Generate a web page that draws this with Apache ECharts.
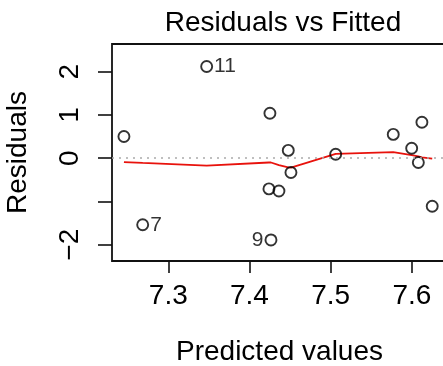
<!DOCTYPE html>
<html>
<head>
<meta charset="utf-8">
<script src="https://cdn.jsdelivr.net/npm/echarts@6/dist/echarts.min.js"></script>
<style>
html,body{margin:0;padding:0;background:#fff;}
#chart{width:443px;height:366px;}
</style>
</head>
<body>
<div id="chart"></div>
<script>
// Data
var fitted    = [7.2454, 7.2685, 7.3473, 7.4240, 7.4252, 7.4265, 7.4363, 7.4478, 7.4511, 7.5062, 7.5771, 7.5998, 7.6080, 7.6124, 7.6251];
var residuals = [0.50, -1.54, 2.12, -0.71, 1.04, -1.89, -0.76, 0.18, -0.33, 0.09, 0.55, 0.23, -0.10, 0.83, -1.11];
var pointIds  = ['', '7', '11', '', '', '9', '', '', '', '', '', '', '', '', ''];
var smoothed  = [-0.09, -0.11, -0.17, -0.10, -0.10, -0.10, -0.16, -0.21, -0.22, 0.10, 0.14, 0.07, 0.04, 0.02, -0.01];
var xTicks = [7.3, 7.4, 7.5, 7.6];
var yTicks = [-2, -1, 0, 1, 2];
var yTickLabels = ['\u22122', '', '0', '1', '2'];

var FONT = 'Liberation Sans, Arial, sans-serif';
var chart = echarts.init(document.getElementById('chart'), null, {renderer: 'canvas'});

var pts = fitted.map(function (f, i) {
  var d = {value: [f, residuals[i]]};
  if (pointIds[i]) {
    d.label = {show: true, formatter: pointIds[i], position: pointIds[i] === '9' ? 'left' : 'right'};
  }
  return d;
});
var line = fitted.map(function (f, i) { return [f, smoothed[i]]; });

chart.setOption({
  animation: false,
  backgroundColor: '#fff',
  title: {
    text: 'Residuals vs Fitted',
    left: 278, top: 4, textAlign: 'center',
    textStyle: {fontFamily: FONT, fontSize: 28, fontWeight: 'normal', color: '#000'}
  },
  grid: {
    left: 112, top: 44, right: -4, bottom: 105,
    outerBoundsMode: 'none', containLabel: false,
    show: true, borderColor: '#111', borderWidth: 1.8, backgroundColor: 'transparent'
  },
  xAxis: {
    type: 'value', min: 7.2307, max: 7.6433,
    name: 'Predicted values', nameLocation: 'middle', nameGap: 77,
    nameTextStyle: {fontFamily: FONT, fontSize: 28, color: '#000'},
    axisLine: {show: false, onZero: false},
    splitLine: {show: false},
    axisTick: {show: true, length: 12, lineStyle: {color: '#111', width: 1.6}, customValues: xTicks},
    axisLabel: {fontFamily: FONT, fontSize: 28, color: '#000', margin: 21, customValues: xTicks,
      formatter: function (v) { return v.toFixed(1); }}
  },
  yAxis: {
    type: 'value', min: -2.377, max: 2.64,
    name: 'Residuals', nameLocation: 'middle', nameGap: 80,
    nameTextStyle: {fontFamily: FONT, fontSize: 28, color: '#000'},
    axisLine: {show: false, onZero: false},
    splitLine: {show: false},
    axisTick: {show: true, length: 14, lineStyle: {color: '#111', width: 1.6}, customValues: yTicks},
    axisLabel: {fontFamily: FONT, fontSize: 28, color: '#000', margin: 28, rotate: 90, customValues: yTicks,
      formatter: function (v) { var i = yTicks.indexOf(Math.round(v)); return i >= 0 ? yTickLabels[i] : ''; }}
  },
  series: [
    {
      type: 'line', data: line, showSymbol: false, symbol: 'none',
      lineStyle: {color: '#e8120c', width: 1.8}, z: 3,
      markLine: {
        silent: true, symbol: 'none', label: {show: false},
        lineStyle: {color: '#aaaaaa', type: [2, 5], width: 1.5},
        data: [{yAxis: 0}]
      }
    },
    {
      type: 'scatter', data: pts, symbol: 'circle', symbolSize: 11,
      itemStyle: {color: 'transparent', borderColor: '#000', borderWidth: 1.9},
      label: {show: false, fontFamily: FONT, fontSize: 21, color: '#000', distance: 1},
      z: 4
    }
  ]
});
</script>
</body>
</html>
